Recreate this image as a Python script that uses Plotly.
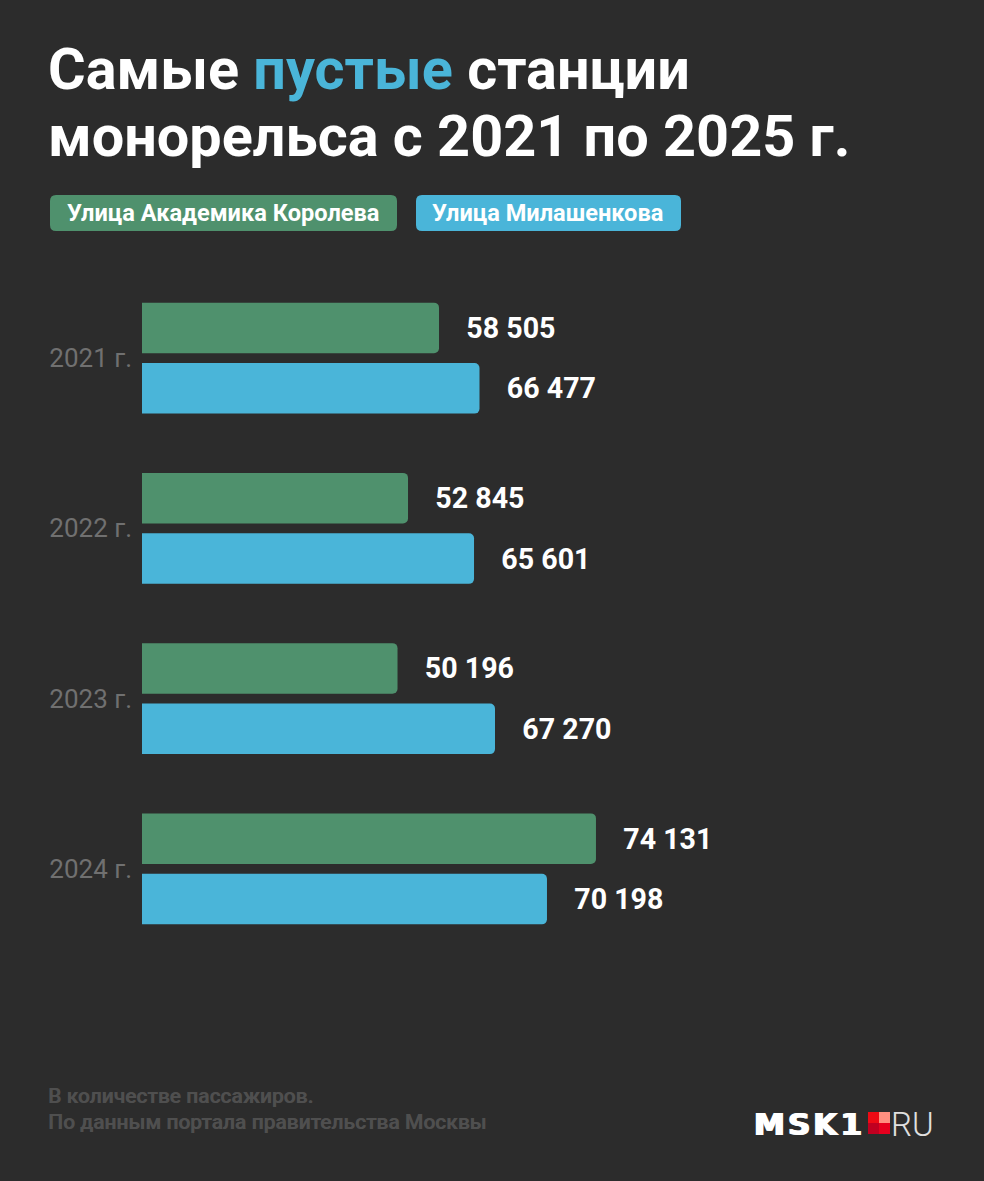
import plotly.graph_objects as go

W, H = 984, 1181
LEFT, TOP, BOTTOM = 142, 273, 227

BG = "#2c2c2c"
GREEN = "#4f916d"
BLUE = "#4ab5d9"

years = ["2021 г.", "2022 г.", "2023 г.", "2024 г."]
names = ["Улица Академика Королева", "Улица Милашенкова"]

# подписи значений
korolev_values = [58505, 52845, 50196, 74131]
milash_values = [66477, 65601, 67270, 70198]

# в оригинале длины столбцов не пропорциональны подписям (особенно 2024),
# поэтому длины считаны с картинки отдельно
korolev_lengths = [58505, 52400, 50330, 89420]
milash_lengths = [66477, 65400, 69530, 79770]
x_max = 165850


def px_x(x):
    return (x - LEFT) / (W - LEFT)


def px_y(y):
    return (H - BOTTOM - y) / (H - TOP - BOTTOM)


def fmt(v):
    return "\u2002\u2004" + f"{v:,}".replace(",", " ")


def chip(x0, y0, x1, y1, r, color):
    xa, xb, xc, xd = px_x(x0), px_x(x0 + r), px_x(x1 - r), px_x(x1)
    ya, yb, yc, yd = px_y(y0), px_y(y0 + r), px_y(y1 - r), px_y(y1)
    path = (f"M {xb} {ya} L {xc} {ya} Q {xd} {ya} {xd} {yb} L {xd} {yc} Q {xd} {yd} {xc} {yd} "
            f"L {xb} {yd} Q {xa} {yd} {xa} {yc} L {xa} {yb} Q {xa} {ya} {xb} {ya} Z")
    return dict(type="path", xref="paper", yref="paper", path=path,
                fillcolor=color, line=dict(width=0))


def square(x0, y0, x1, y1, color):
    return dict(type="rect", xref="paper", yref="paper", x0=px_x(x0), x1=px_x(x1),
                y0=px_y(y0), y1=px_y(y1), fillcolor=color, line=dict(width=0))


def label(x, y, text, size, color, weight=400, family="Roboto", shadow=None):
    font = dict(family=family, size=size, color=color, weight=weight)
    if shadow:
        font["shadow"] = shadow
    return dict(xref="paper", yref="paper", x=px_x(x), y=px_y(y), text=text, showarrow=False,
                xanchor="left", yanchor="middle", align="left", font=font)


fig = go.Figure()
for name, lengths, values, color in [
    (names[0], korolev_lengths, korolev_values, GREEN),
    (names[1], milash_lengths, milash_values, BLUE),
]:
    fig.add_trace(go.Bar(
        name=name, y=years, x=lengths, orientation="h",
        marker=dict(color=color, line=dict(width=0)),
        text=[fmt(v) for v in values], textposition="outside", cliponaxis=False,
        textangle=0, textfont=dict(family="Roboto", size=28.6, color="white", weight=700),
        hovertemplate="%{y}: %{text}<extra></extra>",
    ))

footer_shadow = "0.5px 0 0 #4f4f4f"

fig.update_layout(
    width=W, height=H, autosize=False,
    margin=dict(l=LEFT, r=0, t=TOP, b=BOTTOM, pad=0),
    paper_bgcolor=BG, plot_bgcolor=BG,
    barmode="group", bargap=0.2895, bargroupgap=0.165, barcornerradius=5,
    showlegend=False,
    xaxis=dict(range=[0, x_max], visible=False, fixedrange=True),
    yaxis=dict(autorange="reversed", showgrid=False, zeroline=False, showline=False, ticks="",
               ticklabelstandoff=9, fixedrange=True,
               tickfont=dict(family="Roboto", size=26, color="#707070", weight=400)),
    shapes=[
        chip(50, 195, 397, 231, 6, GREEN),
        chip(416, 195, 681, 231, 6, BLUE),
        square(868, 1112, 879, 1123, "#ee0a14"),
        square(879, 1112, 890, 1123, "#ff8f80"),
        square(868, 1123, 879, 1134, "#c00020"),
        square(879, 1123, 890, 1134, "#e6001e"),
    ],
    annotations=[
        label(46, 70, f"Самые <span style='color:{BLUE}'>пустые</span> станции", 57.6, "white", 700),
        label(46, 136, "монорельса с 2021 по 2025 г.", 57.6, "white", 700),
        label(65, 212.5, names[0], 23.6, "white", 700),
        label(430, 212.5, names[1], 23.6, "white", 700),
        label(45.5, 1096, "В количестве пассажиров.", 21, "#4f4f4f", 500, shadow=footer_shadow),
        label(45.5, 1122, "По данным портала правительства Москвы", 21, "#4f4f4f", 500, shadow=footer_shadow),
        label(752, 1124, "M\u200aS\u200aK\u200a1", 31, "white", 700, "DejaVu Sans",
              shadow="1px 0 0 white, -1px 0 0 white"),
        label(889, 1124, "RU", 33, "#e0e0e0", 300),
    ],
)

fig.write_html("out.html", config=dict(displayModeBar=False),
               post_script="document.body.style.margin='0';")
